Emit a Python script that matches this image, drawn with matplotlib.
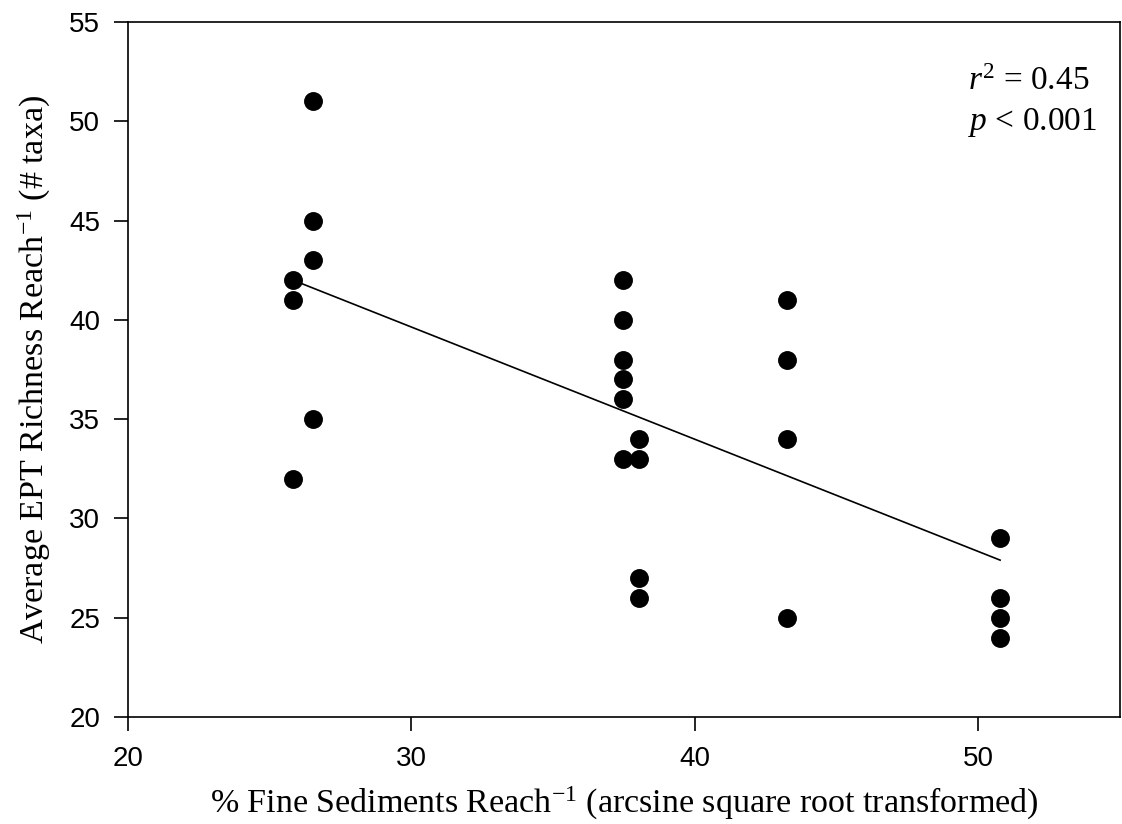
import numpy as np
import matplotlib
matplotlib.use("Agg")
import matplotlib.pyplot as plt

plt.rcParams['mathtext.fontset'] = 'custom'
plt.rcParams['mathtext.rm'] = 'Liberation Serif'
plt.rcParams['mathtext.it'] = 'Liberation Serif:italic'

# Fine sediment (arcsine sqrt transformed) per reach and average EPT richness
fine_sed = [25.82, 25.82, 25.82,
            26.53, 26.53, 26.53, 26.53,
            37.45, 37.45, 37.45, 37.45, 37.45, 37.45,
            38.04, 38.04, 38.04, 38.04,
            43.26, 43.26, 43.26, 43.26,
            50.77, 50.77, 50.77, 50.77]
ept_rich = [42, 41, 32,
            51, 45, 43, 35,
            42, 40, 38, 37, 36, 33,
            34, 33, 27, 26,
            41, 38, 34, 25,
            29, 26, 25, 24]

# Regression line end points
fit_x = [25.82, 50.77]
fit_y = [42.0, 27.9]

x_ticks = [20, 30, 40, 50]
y_ticks = [20, 25, 30, 35, 40, 45, 50, 55]

fig = plt.figure(figsize=(11.22, 8.24), dpi=100)
ax = fig.add_axes([128 / 1122, 1 - 717 / 824, (1120 - 128) / 1122, (717 - 22) / 824])

ax.scatter(fine_sed, ept_rich, s=185, color='black', zorder=3, linewidths=0)
ax.plot(fit_x, fit_y, color='black', lw=1.2, zorder=2)

ax.set_xlim(20, 55)
ax.set_ylim(20, 55)
ax.set_xticks(x_ticks)
ax.set_yticks(y_ticks)
for lab in ax.get_xticklabels() + ax.get_yticklabels():
    lab.set_fontfamily('Liberation Sans')
    lab.set_fontsize(20)
ax.tick_params(direction='out', length=10, width=1.2)
ax.tick_params(axis='x', pad=11)
ax.tick_params(axis='y', pad=10)
for sp in ax.spines.values():
    sp.set_linewidth(1.2)

ax.set_xlabel(r'% Fine Sediments Reach$^{\mathregular{-1}}$ (arcsine square root transformed)',
              family='Liberation Serif', fontsize=24.5, labelpad=9)
ax.set_ylabel(r'Average EPT Richness Reach$^{\mathregular{-1}}$ (# taxa)',
              family='Liberation Serif', fontsize=24.5, labelpad=12)

ax.text(0.847, 0.914, r'$r^{2}$ = 0.45', transform=ax.transAxes, ha='left', va='center',
        family='Liberation Serif', fontsize=24)
ax.text(0.847, 0.856, r'$p$ < 0.001', transform=ax.transAxes, ha='left', va='center',
        family='Liberation Serif', fontsize=24)

fig.savefig('out.png', dpi=100)
